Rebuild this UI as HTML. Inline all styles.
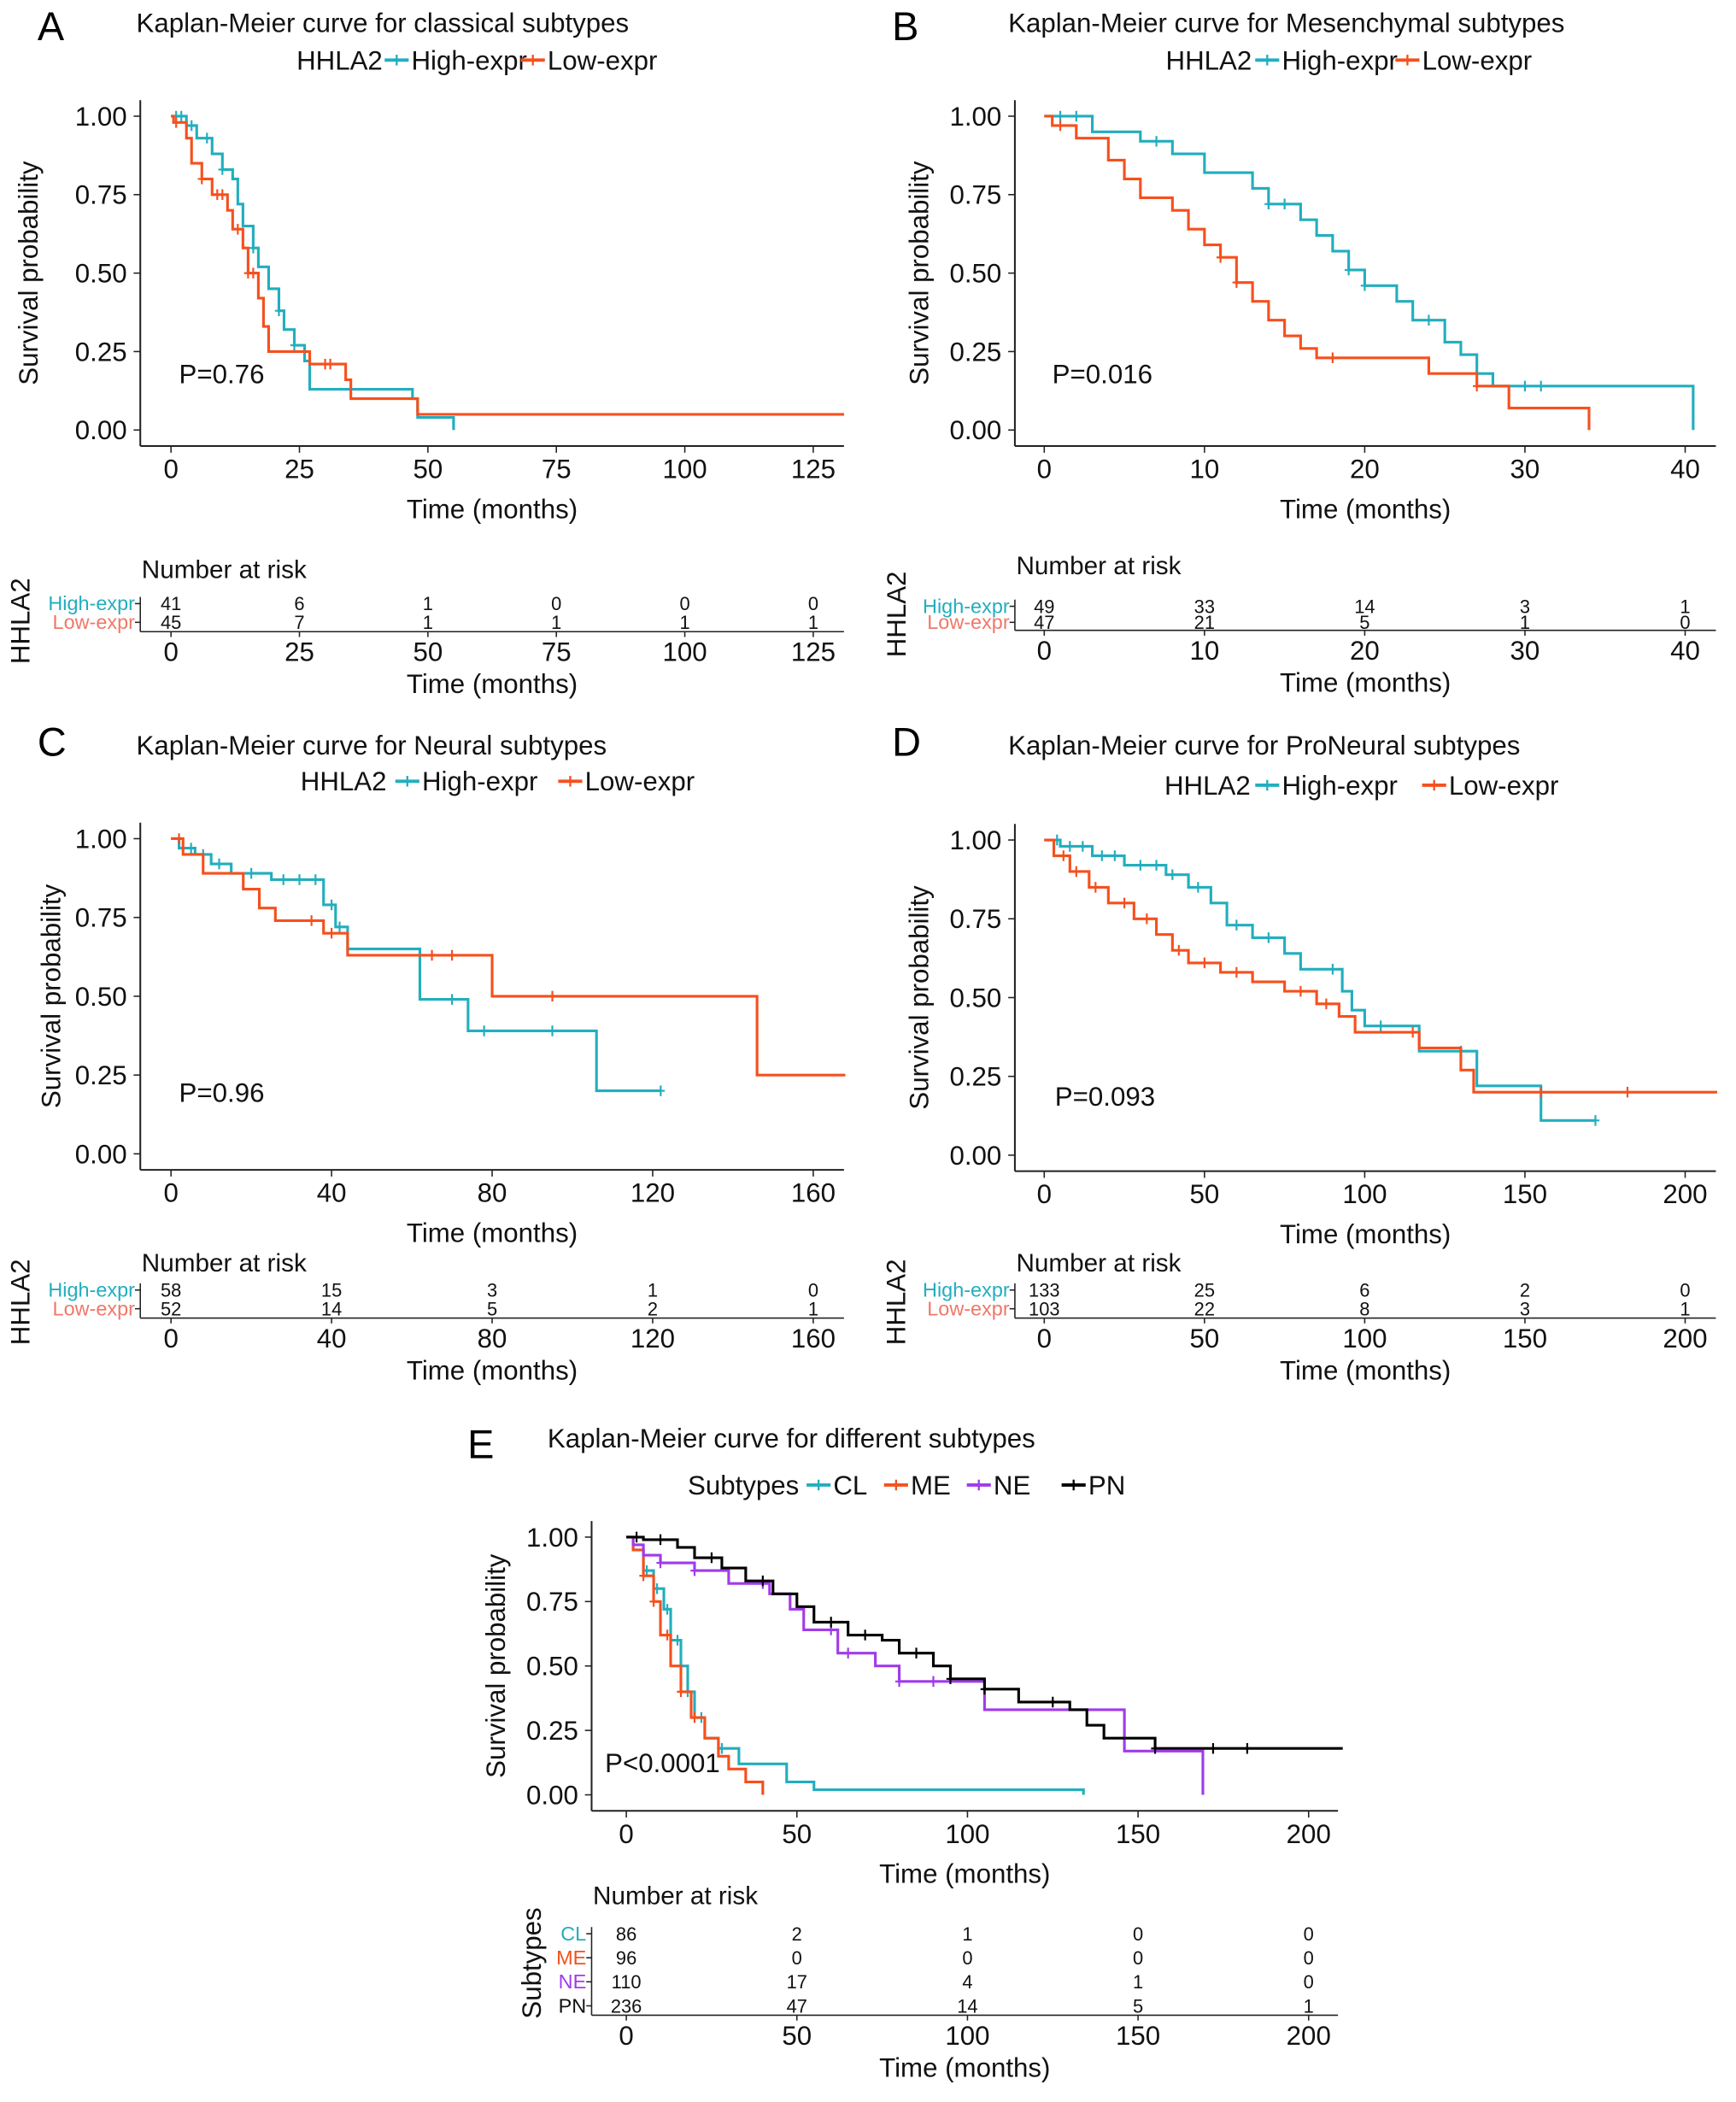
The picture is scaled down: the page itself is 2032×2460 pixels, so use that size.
<!DOCTYPE html>
<html><head><meta charset="utf-8"><style>
html,body{margin:0;padding:0;background:#fff}
svg{display:block}
text{font-family:"Liberation Sans",sans-serif}
</style></head><body>
<svg id="fig" width="2032" height="2460" viewBox="0 0 1300 1574" xmlns="http://www.w3.org/2000/svg"></svg>
<script>
// ---- Data ----
const aHighT=[3,5,8,10,12,13,14,16,17,19,21,22,24,26,27,47,48,55];
const aHighS=[0.97,0.93,0.88,0.83,0.80,0.72,0.65,0.58,0.52,0.45,0.38,0.32,0.27,0.22,0.13,0.10,0.04,0];
const aHighEnd=55;
const aLowT=[0.5,3,4,6,8,11,12,14,15,17,18,19,27,34,35,48];
const aLowS=[0.98,0.93,0.85,0.80,0.75,0.70,0.64,0.58,0.50,0.42,0.33,0.25,0.21,0.16,0.10,0.05];
const aLowEnd=131;
const aHighCens=[1,2,4,7,10,16,21,24];
const aLowCens=[1,6,9,10,13,15,16,30,31];
const bHighT=[3,4,6,8,10,13,14,16,17,18,19,20,22,23,25,26,27,28,40.5];
const bHighS=[0.95,0.95,0.92,0.88,0.82,0.77,0.72,0.67,0.62,0.57,0.51,0.46,0.41,0.35,0.28,0.24,0.18,0.14,0];
const bHighEnd=40.5;
const bLowT=[0.5,2,4,5,6,8,9,10,11,12,13,14,15,16,17,24,27,29,34];
const bLowS=[0.97,0.93,0.86,0.80,0.74,0.70,0.64,0.59,0.55,0.47,0.41,0.35,0.30,0.26,0.23,0.18,0.14,0.07,0];
const bLowEnd=34;
const bHighCens=[1,2,7,14,15,19,20,24,30,31];
const bLowCens=[1,11,12,18,27];
const cHighT=[2,6,10,15,25,38,41,44,62,74,106];
const cHighS=[0.97,0.95,0.92,0.89,0.87,0.79,0.72,0.65,0.49,0.39,0.20];
const cHighEnd=122;
const cLowT=[3,8,18,22,26,38,44,80,146];
const cLowS=[0.95,0.89,0.84,0.78,0.74,0.70,0.63,0.50,0.25];
const cLowEnd=168;
const cHighCens=[3,5,8,12,20,28,32,36,40,42,70,78,95,122];
const cLowCens=[2,35,40,65,70,95];
const dHighT=[5,15,25,38,45,52,57,65,75,80,93,96,100,117,135,155];
const dHighS=[0.98,0.95,0.92,0.89,0.85,0.80,0.73,0.69,0.64,0.59,0.52,0.46,0.41,0.33,0.22,0.11];
const dHighEnd=172;
const dLowT=[3,8,14,20,28,35,40,45,55,65,75,85,92,97,117,130,134];
const dLowS=[0.95,0.90,0.85,0.80,0.75,0.70,0.65,0.61,0.58,0.55,0.52,0.48,0.44,0.39,0.34,0.27,0.20];
const dLowEnd=210;
const dHighCens=[4,8,12,18,22,30,35,40,48,60,70,90,105,130,172];
const dLowCens=[6,10,16,25,32,42,50,60,80,88,115,155,182];
const eCLT=[2,5,8,11,13,16,18,20,23,27,33,47,55,134];
const eCLS=[0.95,0.87,0.80,0.72,0.60,0.50,0.40,0.30,0.22,0.18,0.12,0.05,0.02,0];
const eCLEnd=134;
const eMET=[2,5,8,10,13,16,19,23,27,30,35,40];
const eMES=[0.95,0.85,0.75,0.62,0.50,0.40,0.30,0.22,0.15,0.10,0.05,0];
const eMEEnd=40;
const eNET=[2,5,10,20,30,42,48,52,62,73,80,105,146,169];
const eNES=[0.97,0.93,0.90,0.87,0.82,0.78,0.72,0.64,0.55,0.50,0.44,0.33,0.17,0];
const eNEEnd=169;
const ePNT=[5,15,20,28,35,43,50,55,65,75,80,90,95,105,115,130,135,140,155];
const ePNS=[0.99,0.96,0.92,0.88,0.83,0.78,0.73,0.67,0.62,0.60,0.55,0.50,0.45,0.41,0.36,0.33,0.27,0.22,0.18];
const ePNEnd=210;
const eCLCens=[6,9,12,15,18,22,28];
const eMECens=[5,8,12,16,20];
const eNECens=[10,20,40,60,65,80,90];
const ePNCens=[3,10,25,40,60,70,85,95,105,125,155,172,182];
const aRiskTicks=[0,25,50,75,100,125], aRiskHigh=[41,6,1,0,0,0], aRiskLow=[45,7,1,1,1,1];
const bRiskTicks=[0,10,20,30,40], bRiskHigh=[49,33,14,3,1], bRiskLow=[47,21,5,1,0];
const cRiskTicks=[0,40,80,120,160], cRiskHigh=[58,15,3,1,0], cRiskLow=[52,14,5,2,1];
const dRiskTicks=[0,50,100,150,200], dRiskHigh=[133,25,6,2,0], dRiskLow=[103,22,8,3,1];
const eRiskTicks=[0,50,100,150,200], eRiskCL=[86,2,1,0,0], eRiskME=[96,0,0,0,0], eRiskNE=[110,17,4,1,0], eRiskPN=[236,47,14,5,1];
const yTicks=[0,0.25,0.5,0.75,1];

const TEAL="#22AEBE", RED="#F5501E", PURP="#A03BEA", BLK="#000";
const svg=document.getElementById('fig');
const NS="http://www.w3.org/2000/svg";
function mk(tag,attrs,parent){const e=document.createElementNS(NS,tag);for(const k in attrs)e.setAttribute(k,attrs[k]);(parent||svg).appendChild(e);return e;}
function txt(x,y,s,size,anchor,fill,parent,rot){const e=mk('text',{x:x,y:y,'font-size':size,'text-anchor':anchor||'start'},parent);e.style.fill=fill||'#111';if(rot)e.setAttribute('transform','rotate(-90 '+x+' '+y+')');e.textContent=s;return e;}
function stepAt(T,S,t){let s=1;for(let i=0;i<T.length;i++){if(T[i]<=t)s=S[i];}return s;}

function panel(P){
  const g=mk('g',{});
  
  
  const X=v=>P.x0+(v-P.xmin0)*(P.x1-P.x0)/(P.xmax0-P.xmin0);
  const Y=v=>P.y0+(1-v)*(P.y1-P.y0);
  let t=txt(P.lx,P.ly,P.letter,30,'start','#000',g);
  
  t=txt(P.tx,P.ty,P.title,20,'start','#111',g);
  
  const lg=mk('g',{},g);
  
  txt(P.legX,P.legY,P.legTitle,20,'start','#111',lg);
  P.legItems.forEach(it=>{
    const li=mk('g',{},lg);
    
    mk('line',{x1:it.x,y1:P.legY-7,x2:it.x+18,y2:P.legY-7,stroke:it.c,'stroke-width':2.5},li);
    mk('line',{x1:it.x+9,y1:P.legY-11,x2:it.x+9,y2:P.legY-3,stroke:it.c,'stroke-width':1.5},li);
    txt(it.x+20,P.legY,it.label,20,'start','#111',li);
  });
  const ax=mk('g',{},g);
  
  const axTop=P.y0-12;
  mk('line',{x1:P.ax,y1:axTop,x2:P.ax,y2:P.axBot,stroke:'#222','stroke-width':1.3},ax);
  mk('line',{x1:P.ax,y1:P.axBot,x2:P.axRight,y2:P.axBot,stroke:'#222','stroke-width':1.3},ax);
  yTicks.forEach(v=>{mk('line',{x1:P.ax-5,y1:Y(v),x2:P.ax,y2:Y(v),stroke:'#222'},ax);
    txt(P.ax-10,Y(v)+7,v.toFixed(2),20,'end','#111',ax);});
  P.ticks.forEach(v=>{mk('line',{x1:X(v),y1:P.axBot,x2:X(v),y2:P.axBot+5,stroke:'#222'},ax);
    txt(X(v),P.axBot+24,String(v),20,'middle','#111',ax);});
  t=txt(P.ytX,(axTop+P.axBot)/2,'Survival probability',20,'middle','#111',g,true);
  
  t=txt((P.ax+P.axRight)/2,P.axBot+54,'Time (months)',20,'middle','#111',g);
  
  t=txt(P.px,P.py,P.pval,20,'start','#111',g);
  
  P.series.forEach(s=>{
    let d='M'+X(0)+' '+Y(1);
    for(let i=0;i<s.T.length;i++){d+=' H'+X(s.T[i])+' V'+Y(s.S[i]);}
    d+=' H'+X(s.end);
    const p=mk('path',{d:d,fill:'none',stroke:s.c,'stroke-width':2},g);
    
    s.cens.forEach(ct=>{const cx=X(ct),cy=Y(stepAt(s.T,s.S,ct));
      const m=mk('path',{d:'M'+(cx-3)+' '+cy+' H'+(cx+3)+' M'+cx+' '+(cy-4)+' V'+(cy+4),stroke:s.c,'stroke-width':1.4},g);
      });
  });
  const rt=mk('g',{},g);
  
  txt(P.ax+1,P.rTitleY,'Number at risk',19,'start','#111',rt);
  txt(P.rGX,P.rGY,P.legTitle,20,'middle','#111',rt,true);
  mk('line',{x1:P.ax,y1:P.rows[0].y-10,x2:P.ax,y2:P.rAxis,stroke:'#222'},rt);
  mk('line',{x1:P.ax,y1:P.rAxis,x2:P.axRight,y2:P.rAxis,stroke:'#222'},rt);
  P.rows.forEach(r=>{
    mk('line',{x1:P.ax-4,y1:r.y-5,x2:P.ax,y2:r.y-5,stroke:'#222'},rt);
    txt(P.ax-4,r.y,r.label,r.ls||15,'end',r.c,rt);
    P.rTicks.forEach((v,i)=>txt(X(v),r.y,String(r.vals[i]),14,'middle','#111',rt));
  });
  P.rTicks.forEach(v=>{mk('line',{x1:X(v),y1:P.rAxis,x2:X(v),y2:P.rAxis+4,stroke:'#222'},rt);
    txt(X(v),P.rAxis+22,String(v),20,'middle','#111',rt);});
  txt((P.ax+P.axRight)/2,P.rAxis+46,'Time (months)',20,'middle','#111',rt);
}

const base={xmin0:0};
const LRED="#F07868";
panel(Object.assign({},base,{name:'panel-a-classical',letter:'A',lx:28,ly:30,title:'Kaplan-Meier curve for classical subtypes',tx:102,ty:24,
 legTitle:'HHLA2',legX:222,legY:52,legItems:[{x:288,c:TEAL,label:'High-expr'},{x:390,c:RED,label:'Low-expr'}],
 x0:128,x1:609,xmax0:125,y0:87,y1:322,ax:105,axBot:334,axRight:632,ticks:[0,25,50,75,100,125],ytX:28,px:134,py:287,pval:'P=0.76',
 series:[{nm:'high-expr',T:aHighT,S:aHighS,end:aHighEnd,c:TEAL,cens:aHighCens},{nm:'low-expr',T:aLowT,S:aLowS,end:aLowEnd,c:RED,cens:aLowCens}],
 rTitleY:433,rGX:22,rGY:465,rows:[{y:457,label:'High-expr',c:TEAL,vals:aRiskHigh},{y:471,label:'Low-expr',c:LRED,vals:aRiskLow}],rAxis:473,rTicks:aRiskTicks}));
panel(Object.assign({},base,{name:'panel-b-mesenchymal',letter:'B',lx:668,ly:30,title:'Kaplan-Meier curve for Mesenchymal subtypes',tx:755,ty:24,
 legTitle:'HHLA2',legX:873,legY:52,legItems:[{x:940,c:TEAL,label:'High-expr'},{x:1045,c:RED,label:'Low-expr'}],
 x0:782,x1:1262,xmax0:40,y0:87,y1:322,ax:760,axBot:334,axRight:1285,ticks:[0,10,20,30,40],ytX:695,px:788,py:287,pval:'P=0.016',
 series:[{nm:'high-expr',T:bHighT,S:bHighS,end:bHighEnd,c:TEAL,cens:bHighCens},{nm:'low-expr',T:bLowT,S:bLowS,end:bLowEnd,c:RED,cens:bLowCens}],
 rTitleY:430,rGX:678,rGY:460,rows:[{y:459,label:'High-expr',c:TEAL,vals:bRiskHigh},{y:471,label:'Low-expr',c:LRED,vals:bRiskLow}],rAxis:472,rTicks:bRiskTicks}));
panel(Object.assign({},base,{name:'panel-c-neural',letter:'C',lx:28,ly:566,title:'Kaplan-Meier curve for Neural subtypes',tx:102,ty:565,
 legTitle:'HHLA2',legX:225,legY:592,legItems:[{x:296,c:TEAL,label:'High-expr'},{x:418,c:RED,label:'Low-expr'}],
 x0:128,x1:609,xmax0:160,y0:628,y1:864,ax:105,axBot:876,axRight:632,ticks:[0,40,80,120,160],ytX:45,px:134,py:825,pval:'P=0.96',
 series:[{nm:'high-expr',T:cHighT,S:cHighS,end:cHighEnd,c:TEAL,cens:cHighCens},{nm:'low-expr',T:cLowT,S:cLowS,end:cLowEnd,c:RED,cens:cLowCens}],
 rTitleY:952,rGX:22,rGY:975,rows:[{y:971,label:'High-expr',c:TEAL,vals:cRiskHigh},{y:985,label:'Low-expr',c:LRED,vals:cRiskLow}],rAxis:987,rTicks:cRiskTicks}));
panel(Object.assign({},base,{name:'panel-d-proneural',letter:'D',lx:668,ly:566,title:'Kaplan-Meier curve for ProNeural subtypes',tx:755,ty:565,
 legTitle:'HHLA2',legX:872,legY:595,legItems:[{x:940,c:TEAL,label:'High-expr'},{x:1065,c:RED,label:'Low-expr'}],
 x0:782,x1:1262,xmax0:200,y0:629,y1:865,ax:760,axBot:877,axRight:1285,ticks:[0,50,100,150,200],ytX:695,px:790,py:828,pval:'P=0.093',
 series:[{nm:'high-expr',T:dHighT,S:dHighS,end:dHighEnd,c:TEAL,cens:dHighCens},{nm:'low-expr',T:dLowT,S:dLowS,end:dLowEnd,c:RED,cens:dLowCens}],
 rTitleY:952,rGX:678,rGY:975,rows:[{y:971,label:'High-expr',c:TEAL,vals:dRiskHigh},{y:985,label:'Low-expr',c:LRED,vals:dRiskLow}],rAxis:987,rTicks:dRiskTicks}));
panel(Object.assign({},base,{name:'panel-e-subtypes',letter:'E',lx:350,ly:1092,title:'Kaplan-Meier curve for different subtypes',tx:410,ty:1084,
 legTitle:'Subtypes',legX:515,legY:1119,legItems:[{x:604,c:TEAL,label:'CL'},{x:662,c:RED,label:'ME'},{x:724,c:PURP,label:'NE'},{x:795,c:BLK,label:'PN'}],
 x0:469,x1:980,xmax0:200,y0:1151,y1:1344,ax:443,axBot:1356,axRight:1002,ticks:[0,50,100,150,200],ytX:378,px:453,py:1327,pval:'P<0.0001',
 series:[{nm:'cl',T:eCLT,S:eCLS,end:eCLEnd,c:TEAL,cens:eCLCens},{nm:'me',T:eMET,S:eMES,end:eMEEnd,c:RED,cens:eMECens},{nm:'ne',T:eNET,S:eNES,end:eNEEnd,c:PURP,cens:eNECens},{nm:'pn',T:ePNT,S:ePNS,end:ePNEnd,c:BLK,cens:ePNCens}],
 rTitleY:1426,rGX:405,rGY:1470,rows:[{y:1453,label:'CL',c:TEAL,vals:eRiskCL},{y:1471,label:'ME',c:RED,vals:eRiskME},{y:1489,label:'NE',c:PURP,vals:eRiskNE},{y:1507,label:'PN',c:'#111',vals:eRiskPN}],rAxis:1509,rTicks:eRiskTicks}));
</script>
</body></html>
